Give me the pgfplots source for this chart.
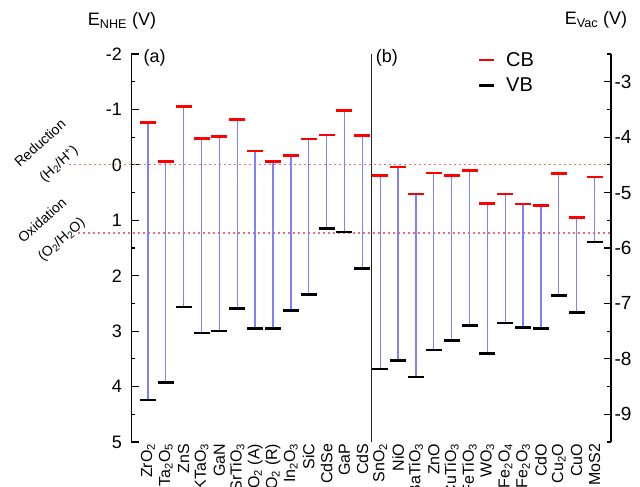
\documentclass[border=0pt]{standalone}
\usepackage{fontspec}
\setmainfont{Liberation Sans}
\usepackage{pgfplots}
\pgfplotsset{compat=1.18}
\usepackage{pgfplotstable}
\newcommand\fs[1]{\fontsize{#1}{#1}\selectfont}
\definecolor{barblue}{RGB}{128,128,255}
\definecolor{dashred}{RGB}{240,110,110}
\pgfplotstableread{
x cb vb
0 -0.76 4.24
1 -0.06 3.93
2 -1.05 2.56
3 -0.48 3.03
4 -0.51 3.00
5 -0.82 2.59
6 -0.25 2.95
7 -0.06 2.95
8 -0.17 2.63
9 -0.47 2.34
10 -0.54 1.15
11 -0.98 1.21
12 -0.53 1.87
13 0.19 3.68
14 0.04 3.53
15 0.53 3.83
16 0.15 3.34
17 0.19 3.17
18 0.10 2.90
19 0.70 3.40
20 0.53 2.85
21 0.71 2.93
22 0.73 2.95
23 0.16 2.36
24 0.95 2.66
25 0.22 1.39
}\data
\begin{document}
\begin{tikzpicture}
\begin{axis}[
  scale only axis, width=479.5pt, height=388pt,
  at={(0,0)}, anchor=south west,
  xmin=-0.92, xmax=25.92, ymin=-2, ymax=5, y dir=reverse,
  clip=false,
  axis x line*=bottom, axis y line*=left,
  x axis line style={draw=none},
  y axis line style={line width=1.3pt},
  xtick={0,...,25}, xtick style={draw=none},
  xticklabels={ZrO\textsubscript{2}, Ta\textsubscript{2}O\textsubscript{5}, ZnS, KTaO\textsubscript{3}, GaN, SrTiO\textsubscript{3}, TiO\textsubscript{2} (A), TiO\textsubscript{2} (R), In\textsubscript{2}O\textsubscript{3}, SiC, CdSe, GaP, CdS, SnO\textsubscript{2}, NiO, BaTiO\textsubscript{3}, ZnO, CuTiO\textsubscript{3}, FeTiO\textsubscript{3}, WO\textsubscript{3}, NiFe\textsubscript{2}O\textsubscript{4}, Fe\textsubscript{2}O\textsubscript{3}, CdO, Cu\textsubscript{2}O, CuO, MoS2},
  xticklabel style={rotate=90, anchor=east, font=\fs{16}, inner sep=1.5pt},
  ytick={-2,...,5}, minor ytick={-1.5,-0.5,...,4.5},
  tick align=inside,
  ytick style={line width=1.2pt, black},
  major tick length=7pt, minor tick length=4pt,
  yticklabel style={font=\fs{18}, xshift=-6pt},
  /pgf/number format/assume math mode=true,
  legend style={draw=none, fill=none, font=\fs{20}, at={(0.718,1.015)}, anchor=north west, row sep=6pt,
    /tikz/every even column/.append style={column sep=0pt}},
  legend image post style={xscale=0.95},
  legend cell align=left,
]
\addplot[dashred, line width=1.2pt, dash pattern=on 2.5pt off 2.5pt, forget plot] coordinates {(-4.44,0) (25.92,0)};
\addplot[dashred, line width=1.2pt, dash pattern=on 2.5pt off 2.5pt, forget plot] coordinates {(-3.93,1.23) (25.92,1.23)};
\addplot[black!85, line width=1.2pt, forget plot] coordinates {(12.53,-2) (12.53,5)};
\addplot[draw=none, mark=none, forget plot,
  error bars/.cd, y dir=plus, y explicit, error mark=none,
  error bar style={draw=barblue, line width=1.3pt, solid}]
  table[x=x, y=cb, y error expr=\thisrow{vb}-\thisrow{cb}] {\data};
\addplot[only marks, mark=-, mark size=8pt, mark options={draw=red, line width=2.5pt}] table[x=x, y=cb] {\data};
\addlegendentry{\hspace{10pt}CB}
\addplot[only marks, mark=-, mark size=8pt, mark options={draw=black, line width=2.5pt}] table[x=x, y=vb] {\data};
\addlegendentry{\hspace{10pt}VB}
\node[anchor=west, inner sep=0pt, font=\fs{18}] at (axis cs:-0.25,-1.93) {(a)};
\node[anchor=west, inner sep=0pt, font=\fs{18}] at (axis cs:12.75,-1.93) {(b)};
\end{axis}
\begin{axis}[
  scale only axis, width=479.5pt, height=388pt,
  at={(0,0)}, anchor=south west,
  xmin=-0.92, xmax=25.92, ymin=-9.5, ymax=-2.5,
  axis x line=none, axis y line*=right,
  y axis line style={line width=1.3pt},
  xtick=\empty,
  ytick={-9,...,-3}, minor ytick={-9.5,-8.5,...,-2.5},
  tick align=inside,
  ytick style={line width=1.2pt, black},
  major tick length=7pt, minor tick length=4pt,
  yticklabel style={font=\fs{19}, xshift=0pt},
  /pgf/number format/assume math mode=true,
]
\addplot[draw=none] coordinates {(0,-5)};
\end{axis}
\node[font=\fs{18}] at (-9.5pt,421pt) {E\textsubscript{NHE} (V)};
\node[font=\fs{18}] at (464.5pt,422pt) {E\textsubscript{Vac} (V)};
\node[font=\fs{14}, rotate=42] at (-91.5pt,299pt) {Reduction};
\node[font=\fs{14}, rotate=42] at (-72.5pt,278pt) {(H\textsubscript{2}/H\textsuperscript{+})};
\node[font=\fs{14}, rotate=42] at (-89.5pt,222pt) {Oxidation};
\node[font=\fs{14}, rotate=42] at (-69.5pt,202pt) {(O\textsubscript{2}/H\textsubscript{2}O)};
\pgfresetboundingbox
\useasboundingbox (-131.5pt,-45pt) rectangle (508.5pt,442pt);
\end{tikzpicture}
\end{document}
